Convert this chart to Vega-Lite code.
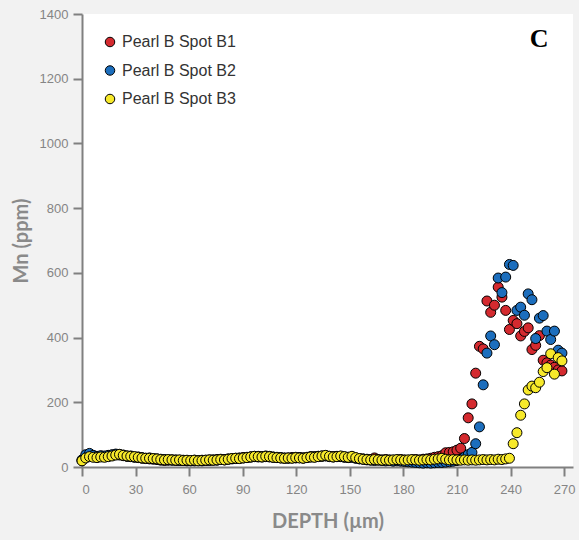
{
  "$schema": "https://vega.github.io/schema/vega-lite/v6.json",
  "width": 491,
  "height": 453,
  "autosize": {"type": "none"},
  "padding": {"left": 82, "top": 14, "right": 6, "bottom": 73},
  "background": "#f2f2f2",
  "config": {
    "view": {"fill": "white", "stroke": null},
    "axis": {
      "grid": false,
      "domainColor": "#808080",
      "domainWidth": 2,
      "tickColor": "#808080",
      "tickWidth": 2,
      "tickSize": 9,
      "labelColor": "#858585",
      "labelFont": "Liberation Sans",
      "labelFontSize": 13,
      "titleFont": "Lato",
      "titleFontWeight": "bold",
      "titleFontSize": 20,
      "titleColor": "#8a8a8a"
    },
    "legend": {
      "labelFont": "Liberation Sans",
      "labelFontSize": 16,
      "labelColor": "#333333",
      "symbolType": "circle",
      "symbolSize": 90,
      "symbolStrokeColor": "black",
      "symbolStrokeWidth": 1,
      "symbolOpacity": 1,
      "rowPadding": 12.5,
      "labelOffset": 4,
      "padding": 0
    }
  },
  "data": {
    "values": [
      {"depth": 0, "Pearl B Spot B1": 20, "Pearl B Spot B2": 22, "Pearl B Spot B3": 19},
      {"depth": 2.1, "Pearl B Spot B1": 30, "Pearl B Spot B2": 38, "Pearl B Spot B3": 28},
      {"depth": 4.2, "Pearl B Spot B1": 33, "Pearl B Spot B2": 42, "Pearl B Spot B3": 32},
      {"depth": 6.3, "Pearl B Spot B1": 32, "Pearl B Spot B2": 36, "Pearl B Spot B3": 30},
      {"depth": 8.4, "Pearl B Spot B1": 30, "Pearl B Spot B2": 33, "Pearl B Spot B3": 29},
      {"depth": 10.5, "Pearl B Spot B1": 33, "Pearl B Spot B2": 35, "Pearl B Spot B3": 31},
      {"depth": 12.6, "Pearl B Spot B1": 32, "Pearl B Spot B2": 34, "Pearl B Spot B3": 30},
      {"depth": 14.7, "Pearl B Spot B1": 34, "Pearl B Spot B2": 36, "Pearl B Spot B3": 32},
      {"depth": 16.8, "Pearl B Spot B1": 36, "Pearl B Spot B2": 38, "Pearl B Spot B3": 34},
      {"depth": 18.9, "Pearl B Spot B1": 38, "Pearl B Spot B2": 40, "Pearl B Spot B3": 37},
      {"depth": 21, "Pearl B Spot B1": 37, "Pearl B Spot B2": 39, "Pearl B Spot B3": 39},
      {"depth": 23.1, "Pearl B Spot B1": 35, "Pearl B Spot B2": 37, "Pearl B Spot B3": 36},
      {"depth": 25.2, "Pearl B Spot B1": 34, "Pearl B Spot B2": 33, "Pearl B Spot B3": 34},
      {"depth": 27.3, "Pearl B Spot B1": 32, "Pearl B Spot B2": 34, "Pearl B Spot B3": 33},
      {"depth": 29.4, "Pearl B Spot B1": 31, "Pearl B Spot B2": 30, "Pearl B Spot B3": 32},
      {"depth": 31.5, "Pearl B Spot B1": 29, "Pearl B Spot B2": 31, "Pearl B Spot B3": 30},
      {"depth": 33.6, "Pearl B Spot B1": 27, "Pearl B Spot B2": 29, "Pearl B Spot B3": 28},
      {"depth": 35.7, "Pearl B Spot B1": 26, "Pearl B Spot B2": 27, "Pearl B Spot B3": 27},
      {"depth": 37.8, "Pearl B Spot B1": 25, "Pearl B Spot B2": 28, "Pearl B Spot B3": 27},
      {"depth": 39.9, "Pearl B Spot B1": 24, "Pearl B Spot B2": 26, "Pearl B Spot B3": 26},
      {"depth": 42, "Pearl B Spot B1": 23, "Pearl B Spot B2": 25, "Pearl B Spot B3": 25},
      {"depth": 44.1, "Pearl B Spot B1": 21, "Pearl B Spot B2": 24, "Pearl B Spot B3": 23},
      {"depth": 46.2, "Pearl B Spot B1": 20, "Pearl B Spot B2": 23, "Pearl B Spot B3": 22},
      {"depth": 48.3, "Pearl B Spot B1": 21, "Pearl B Spot B2": 22, "Pearl B Spot B3": 23},
      {"depth": 50.4, "Pearl B Spot B1": 22, "Pearl B Spot B2": 21, "Pearl B Spot B3": 22},
      {"depth": 52.5, "Pearl B Spot B1": 20, "Pearl B Spot B2": 22, "Pearl B Spot B3": 21},
      {"depth": 54.6, "Pearl B Spot B1": 21, "Pearl B Spot B2": 20, "Pearl B Spot B3": 22},
      {"depth": 56.7, "Pearl B Spot B1": 20, "Pearl B Spot B2": 21, "Pearl B Spot B3": 20},
      {"depth": 58.8, "Pearl B Spot B1": 19, "Pearl B Spot B2": 20, "Pearl B Spot B3": 21},
      {"depth": 60.9, "Pearl B Spot B1": 20, "Pearl B Spot B2": 19, "Pearl B Spot B3": 20},
      {"depth": 63, "Pearl B Spot B1": 19, "Pearl B Spot B2": 21, "Pearl B Spot B3": 21},
      {"depth": 65.1, "Pearl B Spot B1": 20, "Pearl B Spot B2": 20, "Pearl B Spot B3": 19},
      {"depth": 67.2, "Pearl B Spot B1": 21, "Pearl B Spot B2": 19, "Pearl B Spot B3": 20},
      {"depth": 69.3, "Pearl B Spot B1": 20, "Pearl B Spot B2": 21, "Pearl B Spot B3": 21},
      {"depth": 71.4, "Pearl B Spot B1": 22, "Pearl B Spot B2": 20, "Pearl B Spot B3": 22},
      {"depth": 73.5, "Pearl B Spot B1": 21, "Pearl B Spot B2": 22, "Pearl B Spot B3": 21},
      {"depth": 75.6, "Pearl B Spot B1": 23, "Pearl B Spot B2": 21, "Pearl B Spot B3": 22},
      {"depth": 77.7, "Pearl B Spot B1": 24, "Pearl B Spot B2": 23, "Pearl B Spot B3": 23},
      {"depth": 79.8, "Pearl B Spot B1": 23, "Pearl B Spot B2": 22, "Pearl B Spot B3": 22},
      {"depth": 81.9, "Pearl B Spot B1": 25, "Pearl B Spot B2": 24, "Pearl B Spot B3": 24},
      {"depth": 84, "Pearl B Spot B1": 26, "Pearl B Spot B2": 25, "Pearl B Spot B3": 26},
      {"depth": 86.1, "Pearl B Spot B1": 27, "Pearl B Spot B2": 26, "Pearl B Spot B3": 27},
      {"depth": 88.2, "Pearl B Spot B1": 28, "Pearl B Spot B2": 27, "Pearl B Spot B3": 26},
      {"depth": 90.3, "Pearl B Spot B1": 29, "Pearl B Spot B2": 28, "Pearl B Spot B3": 28},
      {"depth": 92.4, "Pearl B Spot B1": 30, "Pearl B Spot B2": 29, "Pearl B Spot B3": 29},
      {"depth": 94.5, "Pearl B Spot B1": 31, "Pearl B Spot B2": 31, "Pearl B Spot B3": 31},
      {"depth": 96.6, "Pearl B Spot B1": 32, "Pearl B Spot B2": 33, "Pearl B Spot B3": 33},
      {"depth": 98.7, "Pearl B Spot B1": 33, "Pearl B Spot B2": 31, "Pearl B Spot B3": 32},
      {"depth": 100.8, "Pearl B Spot B1": 31, "Pearl B Spot B2": 32, "Pearl B Spot B3": 31},
      {"depth": 102.9, "Pearl B Spot B1": 32, "Pearl B Spot B2": 34, "Pearl B Spot B3": 33},
      {"depth": 105, "Pearl B Spot B1": 31, "Pearl B Spot B2": 33, "Pearl B Spot B3": 32},
      {"depth": 107.1, "Pearl B Spot B1": 30, "Pearl B Spot B2": 31, "Pearl B Spot B3": 30},
      {"depth": 109.2, "Pearl B Spot B1": 29, "Pearl B Spot B2": 30, "Pearl B Spot B3": 29},
      {"depth": 111.3, "Pearl B Spot B1": 28, "Pearl B Spot B2": 29, "Pearl B Spot B3": 28},
      {"depth": 113.4, "Pearl B Spot B1": 27, "Pearl B Spot B2": 28, "Pearl B Spot B3": 27},
      {"depth": 115.5, "Pearl B Spot B1": 28, "Pearl B Spot B2": 27, "Pearl B Spot B3": 28},
      {"depth": 117.6, "Pearl B Spot B1": 29, "Pearl B Spot B2": 28, "Pearl B Spot B3": 27},
      {"depth": 119.7, "Pearl B Spot B1": 28, "Pearl B Spot B2": 30, "Pearl B Spot B3": 29},
      {"depth": 121.8, "Pearl B Spot B1": 29, "Pearl B Spot B2": 29, "Pearl B Spot B3": 28},
      {"depth": 123.9, "Pearl B Spot B1": 28, "Pearl B Spot B2": 28, "Pearl B Spot B3": 27},
      {"depth": 126, "Pearl B Spot B1": 30, "Pearl B Spot B2": 29, "Pearl B Spot B3": 29},
      {"depth": 128.1, "Pearl B Spot B1": 31, "Pearl B Spot B2": 32, "Pearl B Spot B3": 31},
      {"depth": 130.2, "Pearl B Spot B1": 32, "Pearl B Spot B2": 31, "Pearl B Spot B3": 30},
      {"depth": 132.3, "Pearl B Spot B1": 33, "Pearl B Spot B2": 33, "Pearl B Spot B3": 32},
      {"depth": 134.4, "Pearl B Spot B1": 34, "Pearl B Spot B2": 33, "Pearl B Spot B3": 34},
      {"depth": 136.5, "Pearl B Spot B1": 35, "Pearl B Spot B2": 34, "Pearl B Spot B3": 36},
      {"depth": 138.6, "Pearl B Spot B1": 33, "Pearl B Spot B2": 32, "Pearl B Spot B3": 33},
      {"depth": 140.7, "Pearl B Spot B1": 32, "Pearl B Spot B2": 31, "Pearl B Spot B3": 31},
      {"depth": 142.8, "Pearl B Spot B1": 33, "Pearl B Spot B2": 32, "Pearl B Spot B3": 32},
      {"depth": 144.9, "Pearl B Spot B1": 32, "Pearl B Spot B2": 33, "Pearl B Spot B3": 34},
      {"depth": 147, "Pearl B Spot B1": 31, "Pearl B Spot B2": 30, "Pearl B Spot B3": 32},
      {"depth": 149.1, "Pearl B Spot B1": 30, "Pearl B Spot B2": 29, "Pearl B Spot B3": 30},
      {"depth": 151.2, "Pearl B Spot B1": 31, "Pearl B Spot B2": 30, "Pearl B Spot B3": 33},
      {"depth": 153.3, "Pearl B Spot B1": 28, "Pearl B Spot B2": 27, "Pearl B Spot B3": 29},
      {"depth": 155.4, "Pearl B Spot B1": 26, "Pearl B Spot B2": 25, "Pearl B Spot B3": 26},
      {"depth": 157.5, "Pearl B Spot B1": 25, "Pearl B Spot B2": 24, "Pearl B Spot B3": 24},
      {"depth": 159.6, "Pearl B Spot B1": 24, "Pearl B Spot B2": 22, "Pearl B Spot B3": 23},
      {"depth": 161.7, "Pearl B Spot B1": 23, "Pearl B Spot B2": 21, "Pearl B Spot B3": 22},
      {"depth": 163.8, "Pearl B Spot B1": 28, "Pearl B Spot B2": 20, "Pearl B Spot B3": 23},
      {"depth": 165.9, "Pearl B Spot B1": 23, "Pearl B Spot B2": 21, "Pearl B Spot B3": 22},
      {"depth": 168, "Pearl B Spot B1": 22, "Pearl B Spot B2": 20, "Pearl B Spot B3": 21},
      {"depth": 170.1, "Pearl B Spot B1": 23, "Pearl B Spot B2": 19, "Pearl B Spot B3": 22},
      {"depth": 172.2, "Pearl B Spot B1": 22, "Pearl B Spot B2": 20, "Pearl B Spot B3": 21},
      {"depth": 174.3, "Pearl B Spot B1": 21, "Pearl B Spot B2": 18, "Pearl B Spot B3": 22},
      {"depth": 176.4, "Pearl B Spot B1": 22, "Pearl B Spot B2": 19, "Pearl B Spot B3": 23},
      {"depth": 178.5, "Pearl B Spot B1": 23, "Pearl B Spot B2": 18, "Pearl B Spot B3": 22},
      {"depth": 180.6, "Pearl B Spot B1": 22, "Pearl B Spot B2": 17, "Pearl B Spot B3": 21},
      {"depth": 182.7, "Pearl B Spot B1": 21, "Pearl B Spot B2": 16, "Pearl B Spot B3": 22},
      {"depth": 184.8, "Pearl B Spot B1": 22, "Pearl B Spot B2": 15, "Pearl B Spot B3": 23},
      {"depth": 186.9, "Pearl B Spot B1": 23, "Pearl B Spot B2": 14, "Pearl B Spot B3": 22},
      {"depth": 189, "Pearl B Spot B1": 22, "Pearl B Spot B2": 13, "Pearl B Spot B3": 21},
      {"depth": 191.1, "Pearl B Spot B1": 24, "Pearl B Spot B2": 12, "Pearl B Spot B3": 22},
      {"depth": 193.2, "Pearl B Spot B1": 25, "Pearl B Spot B2": 13, "Pearl B Spot B3": 23},
      {"depth": 195.3, "Pearl B Spot B1": 27, "Pearl B Spot B2": 12, "Pearl B Spot B3": 22},
      {"depth": 197.4, "Pearl B Spot B1": 30, "Pearl B Spot B2": 13, "Pearl B Spot B3": 24},
      {"depth": 199.5, "Pearl B Spot B1": 32, "Pearl B Spot B2": 14, "Pearl B Spot B3": 25},
      {"depth": 201.6, "Pearl B Spot B1": 35, "Pearl B Spot B2": 14, "Pearl B Spot B3": 27},
      {"depth": 203.7, "Pearl B Spot B1": 44, "Pearl B Spot B2": 15, "Pearl B Spot B3": 24},
      {"depth": 205.8, "Pearl B Spot B1": 45, "Pearl B Spot B2": 16, "Pearl B Spot B3": 22},
      {"depth": 207.9, "Pearl B Spot B1": 47, "Pearl B Spot B2": 18, "Pearl B Spot B3": 23},
      {"depth": 210, "Pearl B Spot B1": 52, "Pearl B Spot B2": 20, "Pearl B Spot B3": 22},
      {"depth": 212.1, "Pearl B Spot B1": 58, "Pearl B Spot B2": 24, "Pearl B Spot B3": 21},
      {"depth": 214.2, "Pearl B Spot B1": 88, "Pearl B Spot B2": 30, "Pearl B Spot B3": 22},
      {"depth": 216.3, "Pearl B Spot B1": 152, "Pearl B Spot B2": 38, "Pearl B Spot B3": 21},
      {"depth": 218.4, "Pearl B Spot B1": 195, "Pearl B Spot B2": 45, "Pearl B Spot B3": 22},
      {"depth": 220.5, "Pearl B Spot B1": 290, "Pearl B Spot B2": 72, "Pearl B Spot B3": 21},
      {"depth": 222.6, "Pearl B Spot B1": 373, "Pearl B Spot B2": 124, "Pearl B Spot B3": 22},
      {"depth": 224.7, "Pearl B Spot B1": 365, "Pearl B Spot B2": 254, "Pearl B Spot B3": 23},
      {"depth": 226.8, "Pearl B Spot B1": 513, "Pearl B Spot B2": 352, "Pearl B Spot B3": 22},
      {"depth": 228.9, "Pearl B Spot B1": 478, "Pearl B Spot B2": 405, "Pearl B Spot B3": 23},
      {"depth": 231, "Pearl B Spot B1": 500, "Pearl B Spot B2": 378, "Pearl B Spot B3": 22},
      {"depth": 233.1, "Pearl B Spot B1": 556, "Pearl B Spot B2": 584, "Pearl B Spot B3": 24},
      {"depth": 235.2, "Pearl B Spot B1": 525, "Pearl B Spot B2": 539, "Pearl B Spot B3": 23},
      {"depth": 237.3, "Pearl B Spot B1": 484, "Pearl B Spot B2": 587, "Pearl B Spot B3": 25},
      {"depth": 239.4, "Pearl B Spot B1": 425, "Pearl B Spot B2": 626, "Pearl B Spot B3": 27},
      {"depth": 241.5, "Pearl B Spot B1": 453, "Pearl B Spot B2": 623, "Pearl B Spot B3": 72},
      {"depth": 243.6, "Pearl B Spot B1": 443, "Pearl B Spot B2": 484, "Pearl B Spot B3": 106},
      {"depth": 245.7, "Pearl B Spot B1": 405, "Pearl B Spot B2": 494, "Pearl B Spot B3": 160},
      {"depth": 247.8, "Pearl B Spot B1": 419, "Pearl B Spot B2": 469, "Pearl B Spot B3": 195},
      {"depth": 249.9, "Pearl B Spot B1": 430, "Pearl B Spot B2": 535, "Pearl B Spot B3": 238},
      {"depth": 252, "Pearl B Spot B1": 363, "Pearl B Spot B2": 517, "Pearl B Spot B3": 250},
      {"depth": 254.1, "Pearl B Spot B1": 376, "Pearl B Spot B2": 397, "Pearl B Spot B3": 245},
      {"depth": 256.2, "Pearl B Spot B1": 406, "Pearl B Spot B2": 460, "Pearl B Spot B3": 262},
      {"depth": 258.3, "Pearl B Spot B1": 330, "Pearl B Spot B2": 468, "Pearl B Spot B3": 295},
      {"depth": 260.4, "Pearl B Spot B1": 322, "Pearl B Spot B2": 420, "Pearl B Spot B3": 307},
      {"depth": 262.5, "Pearl B Spot B1": 315, "Pearl B Spot B2": 394, "Pearl B Spot B3": 350},
      {"depth": 264.6, "Pearl B Spot B1": 308, "Pearl B Spot B2": 420, "Pearl B Spot B3": 287},
      {"depth": 266.7, "Pearl B Spot B1": 300, "Pearl B Spot B2": 361, "Pearl B Spot B3": 338},
      {"depth": 268.8, "Pearl B Spot B1": 297, "Pearl B Spot B2": 352, "Pearl B Spot B3": 328}
    ]
  },
  "layer": [
    {
      "transform": [
        {"fold": ["Pearl B Spot B1", "Pearl B Spot B2", "Pearl B Spot B3"], "as": ["series", "mn"]}
      ],
      "mark": {"type": "point", "filled": true, "size": 100, "stroke": "black", "strokeWidth": 1, "opacity": 1},
      "encoding": {
        "x": {
          "field": "depth",
          "type": "quantitative",
          "scale": {"domain": [0, 275], "nice": false, "zero": false},
          "axis": {"values": [0, 30, 60, 90, 120, 150, 180, 210, 240, 270], "title": "DEPTH (µm)", "labelPadding": 7, "titlePadding": 15}
        },
        "y": {
          "field": "mn",
          "type": "quantitative",
          "scale": {"domain": [0, 1400], "nice": false},
          "axis": {"values": [0, 200, 400, 600, 800, 1000, 1200, 1400], "format": "d", "title": "Mn (ppm)", "labelPadding": 5, "titlePadding": 8}
        },
        "color": {
          "field": "series",
          "type": "nominal",
          "scale": {"domain": ["Pearl B Spot B1", "Pearl B Spot B2", "Pearl B Spot B3"], "range": ["#d42a2f", "#1c6ebd", "#f7e92a"]},
          "legend": {"title": null, "orient": "none", "legendX": 20, "legendY": 20}
        },
        "order": {"field": "series", "type": "ordinal"}
      }
    },
    {
      "data": {"values": [{"label": "C"}]},
      "mark": {"type": "text", "font": "Liberation Serif", "fontWeight": "bold", "fontSize": 26, "color": "black", "baseline": "middle", "align": "center"},
      "encoding": {
        "text": {"field": "label"},
        "x": {"datum": 256},
        "y": {"datum": 1324}
      }
    }
  ]
}
